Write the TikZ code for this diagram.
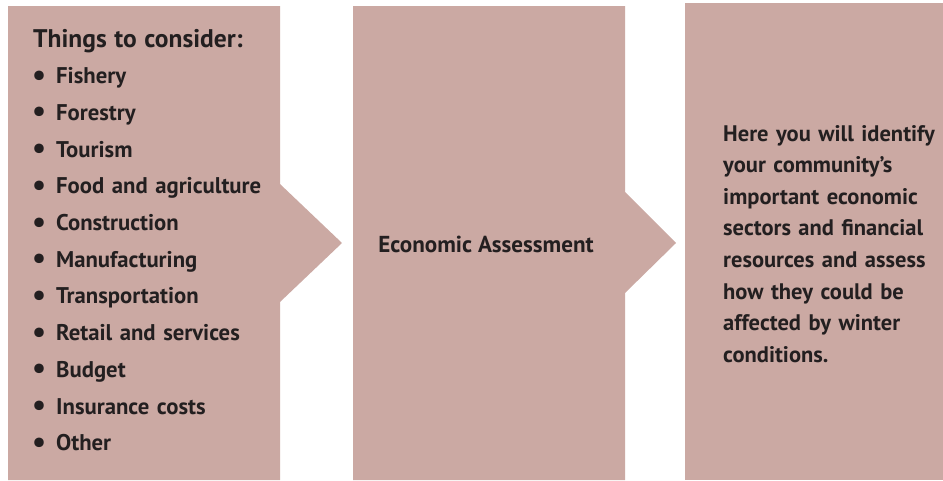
\documentclass[tikz,border=0pt]{standalone}
\usepackage{fontspec}
\setmainfont{PT Sans}
\usetikzlibrary{positioning}
\definecolor{blockfill}{RGB}{203,169,163}
\definecolor{inkdark}{RGB}{35,31,32}

\begin{document}
\begin{tikzpicture}[
  x=1pt,y=-1pt,
  blk/.style={fill=blockfill},
  txt/.style={text=inkdark,inner sep=0pt,
              font=\fontsize{22.7}{36.7}\selectfont\bfseries},
  bul/.style={txt,text width=260pt,align=left,anchor=base west}
]
\useasboundingbox (0,0) rectangle (943,480);
% blocks with built-in chevrons
\fill[blk] (8,6) -- (280,6) -- (280,184) -- (342,243) -- (280,302)
           -- (280,480) -- (8,480) -- cycle;
\fill[blk] (353,6) -- (625,6) -- (625,192) -- (676,243) -- (625,293)
           -- (625,480) -- (353,480) -- cycle;
\fill[blk] (685,3) rectangle (943,480);
% texts
\newcommand{\itm}[1]{\makebox[23pt][l]{\kern-1pt\raisebox{-1.5pt}{%
  \fontsize{31}{36.7}\selectfont\textbullet}}#1}
\node[bul] (things) at (33,47) {{\fontsize{25.5}{36.7}\selectfont
  Things to consider:}\\
  \itm{Fishery}\\ \itm{Forestry}\\ \itm{Tourism}\\
  \itm{Food and agriculture}\\ \itm{Construction}\\
  \itm{Manufacturing}\\ \itm{Transportation}\\
  \itm{Retail and services}\\ \itm{Budget}\\
  \itm{Insurance costs}\\ \itm{Other}};
\node[txt,anchor=base,font=\fontsize{23.1}{30}\selectfont\bfseries]
  (econ) at (486,252) {Economic Assessment};
\node[txt,text width=235pt,align=left,anchor=base west,
      font=\fontsize{22.5}{31.6}\selectfont\bfseries] (desc) at (723,141)
  {Here you will identify\\ your community’s\\ important economic\\
   sectors and financial\\ resources and assess\\ how they could be\\
   affected by winter\\ conditions.};
\end{tikzpicture}
\end{document}
